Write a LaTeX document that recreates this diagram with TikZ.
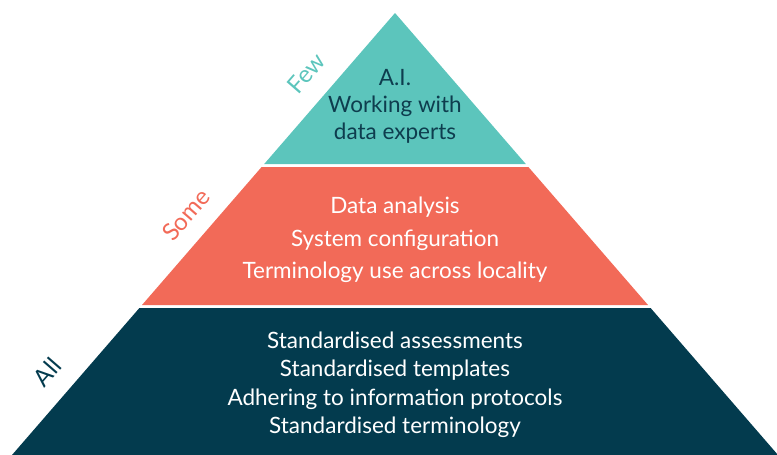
\documentclass[tikz,border=0pt]{standalone}
\usepackage{fontspec}
\setmainfont{Lato}
\definecolor{tealc}{HTML}{5CC5BC}
\definecolor{salmonc}{HTML}{F26A58}
\definecolor{navyc}{HTML}{033B4E}
\definecolor{textnavy}{HTML}{0E3D4E}
\begin{document}
\begin{tikzpicture}[x=1pt,y=-1pt,
  body/.style={align=center,inner sep=0pt},
  side/.style={inner sep=0pt,rotate=49,font=\fontsize{24}{26}\selectfont}]
\useasboundingbox (0,0) rectangle (777,455);
% layers
\fill[tealc] (395,13) -- (525.8,164) -- (264.2,164) -- cycle;
\fill[salmonc] (261.6,167) -- (528.4,167) -- (648,305) -- (142,305) -- cycle;
\fill[navyc] (139.4,308) -- (650.6,308) -- (778,455) -- (12,455) -- cycle;
% texts
\node[body,text=textnavy,font=\fontsize{22.5}{27}\selectfont] (top) at (395,106) {A.I.\\Working with\\data experts};
\node[body,text=white,font=\fontsize{22.5}{32.5}\selectfont] (mid) at (395,240) {Data analysis\\System configuration\\Terminology use across locality};
\node[body,text=white,font=\fontsize{22.5}{28.5}\selectfont] (bot) at (395,385) {Standardised assessments\\Standardised templates\\Adhering to information protocols\\Standardised terminology};
% side labels
\node[side,text=tealc] (few) at (306,73) {Few};
\node[side,text=salmonc] (some) at (186,215) {Some};
\node[side,text=navyc] (all) at (47,372) {All};
\end{tikzpicture}
\end{document}
